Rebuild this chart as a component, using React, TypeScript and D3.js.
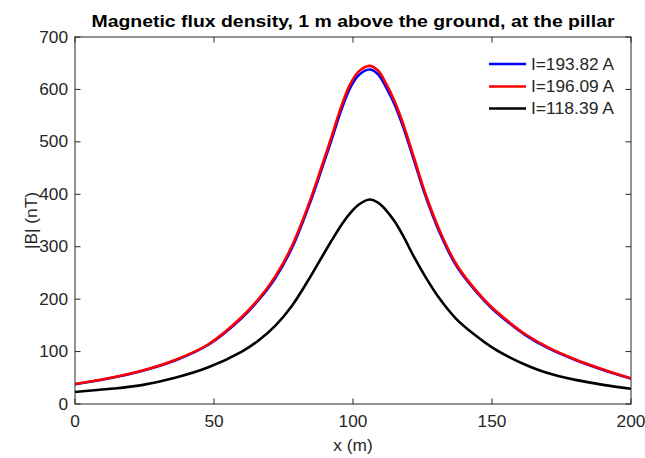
import React from "react";
import * as d3 from "d3";

const xs = [0, 12, 24, 36, 48, 60, 66, 72, 78, 84, 88, 92, 96, 99, 102, 106, 109, 112, 115, 118, 122, 126, 131, 137, 144, 150, 156, 162, 170, 180, 190, 200];
const blueVals = [37.5, 48.5, 63, 83, 113, 164, 198, 240, 297, 376, 436, 499, 564, 603, 627, 638, 629, 603, 571, 529, 464, 398, 329, 265, 216, 182, 155, 131.5, 107, 84, 65, 48.5];
const redVals = [38, 49, 63.5, 84, 114, 166, 200, 243, 301, 380, 441, 505, 571, 610, 634, 645, 636, 610, 577, 535, 469, 402, 333, 268, 218, 184, 157, 133, 108.5, 85, 66, 49];
const blackVals = [23, 28.5, 36, 50, 70, 100, 121, 149, 187, 237, 273, 309, 343, 364, 380, 390, 384, 369, 348, 321, 280, 243, 202, 163, 131, 108, 90, 75, 59, 46, 36.5, 29];

const seriesNames = ["I=193.82 A", "I=196.09 A", "I=118.39 A"];
const seriesColors = ["#0000ff", "#ff0000", "#000000"];
const xTicks = [0, 50, 100, 150, 200];
const yTicks = [0, 100, 200, 300, 400, 500, 600, 700];

const W = 645, H = 458;
const L = 75, R = 631, T = 37, B = 404;
const SX = 1.08;
const FONT = "'Liberation Sans', Arial, Helvetica, sans-serif";
const AX = "#262626";

function Txt(props: { x: number; y: number; anchor?: string; size?: number; weight?: string; rot?: number; fill?: string; children: any; len?: number }) {
  const { x, y, anchor = "start", size = 16, weight = "normal", rot = 0, fill = AX, children, len } = props;
  return (
    <text
      transform={`translate(${x},${y})${rot ? ` rotate(${rot})` : ""}${len ? "" : ` scale(${SX},1)`}`}
      textAnchor={anchor}
      fontSize={size}
      fontWeight={weight}
      fontFamily={FONT}
      fill={fill}
      textLength={len}
      lengthAdjust={len ? "spacingAndGlyphs" : undefined}
    >
      {children}
    </text>
  );
}

export default function App() {
  const x = d3.scaleLinear().domain([0, 200]).range([L, R]);
  const y = d3.scaleLinear().domain([0, 700]).range([B, T]);
  const line = d3
    .line<number>()
    .x((_, i) => x(xs[i]))
    .y((d) => y(d))
    .curve(d3.curveCatmullRom.alpha(0.5));
  const all = [blueVals, redVals, blackVals];
  const legY = [64, 86.5, 108.5];
  return (
    <svg width={W} height={H} style={{ position: "absolute", left: 0, top: 0, background: "#fff" }}>
      <rect x={0} y={0} width={W} height={H} fill="#fff" />
      <defs>
        <clipPath id="plot">
          <rect x={L} y={T} width={R - L} height={B - T} />
        </clipPath>
      </defs>
      <g clipPath="url(#plot)">
        {all.map((vals, i) => (
          <path key={i} d={line(vals) || ""} fill="none" stroke={seriesColors[i]} strokeWidth={2.6} strokeLinejoin="round" />
        ))}
      </g>
      <rect x={L} y={T} width={R - L} height={B - T} fill="none" stroke={AX} strokeWidth={1} />
      {xTicks.map((t) => (
        <g key={"x" + t}>
          <line x1={x(t)} x2={x(t)} y1={B} y2={B - 5.5} stroke={AX} />
          <line x1={x(t)} x2={x(t)} y1={T} y2={T + 5.5} stroke={AX} />
          <Txt x={x(t)} y={427} anchor="middle">{t}</Txt>
        </g>
      ))}
      {yTicks.map((t) => (
        <g key={"y" + t}>
          <line x1={L} x2={L + 5.5} y1={y(t)} y2={y(t)} stroke={AX} />
          <line x1={R} x2={R - 5.5} y1={y(t)} y2={y(t)} stroke={AX} />
          <Txt x={68} y={y(t) + 5.6} anchor="end">{t}</Txt>
        </g>
      ))}
      <Txt x={353} y={451} anchor="middle">x (m)</Txt>
      <Txt x={37} y={220.5} anchor="middle" rot={-90}>|B| (nT)</Txt>
      <Txt x={353} y={27.3} anchor="middle" size={16} weight="bold" fill="#000" len={523}>
        Magnetic flux density, 1 m above the ground, at the pillar
      </Txt>
      {seriesNames.map((n, i) => (
        <g key={n}>
          <line x1={489} x2={526} y1={legY[i]} y2={legY[i]} stroke={seriesColors[i]} strokeWidth={2.6} />
          <Txt x={531} y={legY[i] + 5.8} len={83}>{n}</Txt>
        </g>
      ))}
    </svg>
  );
}
